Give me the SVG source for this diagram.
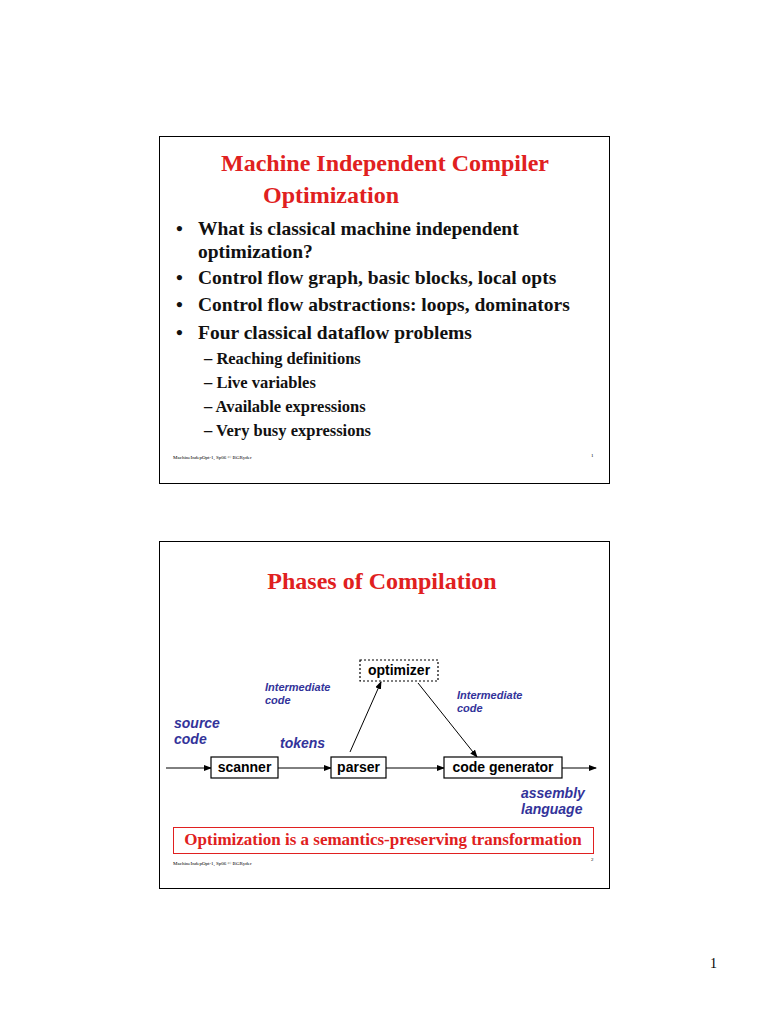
<svg xmlns="http://www.w3.org/2000/svg" width="768" height="1024" viewBox="0 0 768 1024">
<style>
.slide{fill:#fff;stroke:#000;stroke-width:1}
.title{font-family:"Liberation Serif",serif;font-weight:bold;font-size:24px;fill:#e02020;text-anchor:middle}
.b{font-family:"Liberation Serif",serif;font-weight:bold;font-size:19.5px;fill:#111}
.s{font-family:"Liberation Serif",serif;font-weight:bold;font-size:16.5px;fill:#111}
.foot{font-family:"Liberation Serif",serif;font-size:5px;fill:#000}
.node rect{fill:#fff;stroke:#000;stroke-width:1.2}
.node text{font-family:"Liberation Sans",sans-serif;font-weight:bold;font-size:14px;text-anchor:middle;fill:#000}
.lab{font-family:"Liberation Sans",sans-serif;font-weight:bold;font-style:italic;fill:#33339a}
.edge{stroke:#000;stroke-width:1;fill:none;marker-end:url(#a)}
</style>
<defs><marker id="a" markerWidth="8" markerHeight="6" refX="7" refY="3" orient="auto" markerUnits="userSpaceOnUse"><path d="M0,0L8,3L0,6z" fill="#000"/></marker></defs>
<rect width="768" height="1024" fill="#fff"/>
<g id="slide1">
<rect class="slide" x="159.5" y="136.5" width="450" height="347"/>
<text class="title" x="385" y="171">Machine Independent Compiler</text>
<text class="title" x="331" y="203">Optimization</text>
<text class="b" x="176" y="235">•</text><text class="b" x="198" y="235">What is classical machine independent</text>
<text class="b" x="198" y="258">optimization?</text>
<text class="b" x="176" y="284">•</text><text class="b" x="198" y="284">Control flow graph, basic blocks, local opts</text>
<text class="b" x="176" y="311">•</text><text class="b" x="198" y="311">Control flow abstractions: loops, dominators</text>
<text class="b" x="176" y="339">•</text><text class="b" x="198" y="339">Four classical dataflow problems</text>
<text class="s" x="204" y="364">– Reaching definitions</text>
<text class="s" x="204" y="388">– Live variables</text>
<text class="s" x="204" y="412">– Available expressions</text>
<text class="s" x="204" y="436">– Very busy expressions</text>
<text class="foot" x="173" y="459">MachineIndepOpt-1, Sp06 © BGRyder</text>
<text class="foot" x="591" y="457">1</text>
</g>
<g id="slide2">
<rect class="slide" x="159.5" y="541.5" width="450" height="347"/>
<text class="title" x="382" y="589">Phases of Compilation</text>
<text class="lab" x="174" y="728" font-size="14">source</text>
<text class="lab" x="174" y="744" font-size="14">code</text>
<text class="lab" x="280" y="748" font-size="14">tokens</text>
<text class="lab" x="265" y="691" font-size="11">Intermediate</text>
<text class="lab" x="265" y="704" font-size="11">code</text>
<text class="lab" x="457" y="699" font-size="11">Intermediate</text>
<text class="lab" x="457" y="712" font-size="11">code</text>
<text class="lab" x="521" y="798" font-size="14">assembly</text>
<text class="lab" x="521" y="814" font-size="14">language</text>
<rect x="173.5" y="827.5" width="420" height="26" fill="none" stroke="#e02020"/>
<text x="383" y="845" font-family="Liberation Serif,serif" font-weight="bold" font-size="17" fill="#e02020" text-anchor="middle">Optimization is a semantics-preserving transformation</text>
<text class="foot" x="173" y="865">MachineIndepOpt-1, Sp06 © BGRyder</text>
<text class="foot" x="591" y="861">2</text>
</g>
<g id="connectors">
<line class="edge" x1="166" y1="768" x2="211" y2="768"/>
<line class="edge" x1="278" y1="768" x2="331" y2="768"/>
<line class="edge" x1="386" y1="768" x2="444" y2="768"/>
<line class="edge" x1="562" y1="768" x2="596" y2="768"/>
<line class="edge" x1="350" y1="752" x2="381" y2="682"/>
<line class="edge" x1="418" y1="683" x2="477" y2="757"/>
</g>
<g id="scanner" class="node"><rect x="211" y="757" width="67" height="21"/><text x="244.5" y="772">scanner</text></g>
<g id="parser" class="node"><rect x="331" y="757" width="55" height="21"/><text x="358.5" y="772">parser</text></g>
<g id="codegen" class="node"><rect x="444" y="757" width="118" height="21"/><text x="503" y="772">code generator</text></g>
<g id="optimizer" class="node"><rect x="360" y="660" width="78" height="21" stroke-dasharray="2,2"/><text x="399" y="675">optimizer</text></g>
<text x="710" y="968" font-family="Liberation Serif,serif" font-size="14" fill="#000">1</text>
</svg>
